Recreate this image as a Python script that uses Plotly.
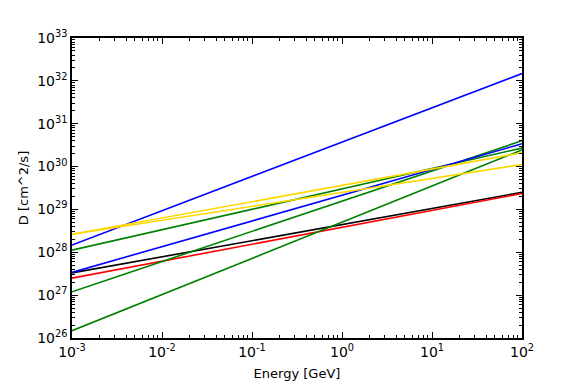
import plotly.graph_objects as go

# energy range shown (GeV)
energy = [1e-3, 1e2]

# diffusion coefficient at both ends of the energy range (cm^2/s)
d_blue_1 = [1.48e28, 1.48e32]
d_blue_2 = [3.4e27, 3.4e30]
d_green_1 = [1.12e28, 2.7e30]
d_green_2 = [1.2e27, 4.0e30]
d_green_3 = [1.48e26, 2.45e30]
d_gold_1 = [2.63e28, 2.1e30]
d_gold_2 = [2.63e28, 1.12e30]
d_black = [3.3e27, 2.5e29]
d_red = [2.5e27, 2.35e29]

# tick labels
x_exponents = [-3, -2, -1, 0, 1, 2]
y_exponents = [26, 27, 28, 29, 30, 31, 32, 33]

series = [
    (d_black, "black"),
    (d_red, "#ff0000"),
    (d_green_3, "#008000"),
    (d_green_2, "#008000"),
    (d_green_1, "#008000"),
    (d_blue_2, "#0000ff"),
    (d_blue_1, "#0000ff"),
    (d_gold_1, "#ffd700"),
    (d_gold_2, "#ffd700"),
]

fig = go.Figure()
for values, color in series:
    fig.add_trace(
        go.Scatter(
            x=energy,
            y=values,
            mode="lines",
            line=dict(color=color, width=1.6),
            showlegend=False,
        )
    )

axis_common = dict(
    type="log",
    automargin=False,
    ticks="inside",
    ticklen=6,
    tickwidth=1,
    tickcolor="black",
    showline=True,
    linecolor="black",
    linewidth=1.5,
    mirror="allticks",
    showgrid=False,
    zeroline=False,
    tickfont=dict(family="DejaVu Sans", size=14, color="black"),
    minor=dict(ticks="inside", ticklen=3, tickcolor="black", dtick="D1", showgrid=False),
)
title_font = dict(family="DejaVu Sans", size=13, color="black")

fig.update_xaxes(
    range=[-3, 2],
    tickvals=[10.0 ** e for e in x_exponents],
    ticktext=["10<sup>%d</sup>" % e for e in x_exponents],
    title=dict(text="Energy [GeV]", font=title_font, standoff=10),
    **axis_common,
)
fig.update_yaxes(
    range=[26, 33],
    tickvals=[10.0 ** e for e in y_exponents],
    ticktext=["10<sup>%d</sup>" % e for e in y_exponents],
    title=dict(text="D [cm^2/s]", font=title_font, standoff=6),
    **axis_common,
)

# page body adds 8px at left/top of the figure
fig.update_layout(
    width=573,
    height=380,
    margin=dict(l=64, r=59, t=30, b=50),
    paper_bgcolor="white",
    plot_bgcolor="white",
)

fig.write_html("out.html")
